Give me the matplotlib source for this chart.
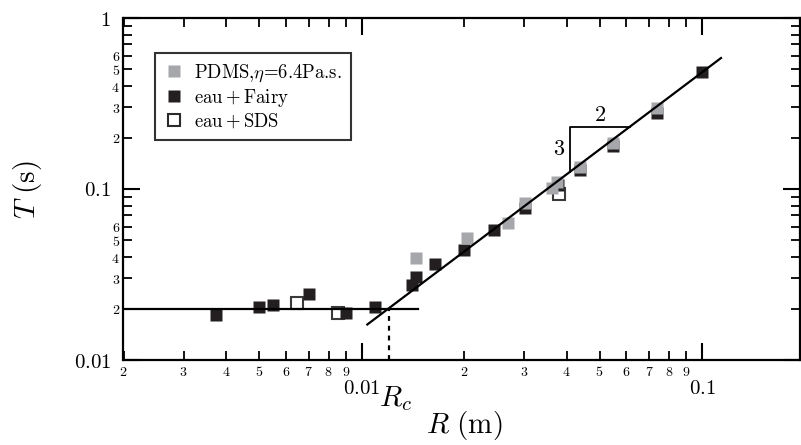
import matplotlib
matplotlib.use("Agg")
import matplotlib.pyplot as plt
from matplotlib.lines import Line2D
import numpy as np

plt.rcParams['mathtext.fontset'] = 'cm'
plt.rcParams['font.family'] = ['DejaVu Serif']
plt.rcParams['axes.unicode_minus'] = False

# ---------------- data ----------------
pdms_R = [0.01444, 0.0204, 0.0270, 0.0302, 0.0362, 0.0374, 0.0438, 0.0549, 0.0736]
pdms_T = [0.0393, 0.0515, 0.0635, 0.0828, 0.1009, 0.1103, 0.135, 0.1866, 0.2965]

fairy_R = [0.00373, 0.00500, 0.00550, 0.00702, 0.00899, 0.01096, 0.01403, 0.01444,
           0.01643, 0.01999, 0.0245, 0.0302, 0.0377, 0.0438, 0.0549, 0.0736, 0.1000]
fairy_T = [0.01834, 0.0203, 0.0209, 0.0243, 0.01875, 0.0203, 0.02746, 0.0307,
           0.0364, 0.0440, 0.0575, 0.0774, 0.106, 0.130, 0.178, 0.280, 0.485]

sds_R = [0.00647, 0.00853, 0.0380]
sds_T = [0.0216, 0.0189, 0.0931]

plateau_T = 0.02
Rc = 0.012
slope = 1.5
plateau_R = [0.002, 0.0146]
fit_R = [0.0104, 0.1137]
tri_R = [0.041, 0.0614]

legend_labels = ['PDMS,$\\eta$=6.4Pa.s.',
                 r'$\mathrm{eau+Fairy}$',
                 r'$\mathrm{eau+SDS}$']

x_major = [0.01, 0.1]
x_major_labels = ['0.01', '0.1']
x_minor = [d * 10.0 ** e for e in (-3, -2) for d in range(2, 10)]
x_minor_labels = [str(d) for e in (-3, -2) for d in range(2, 10)]
y_major = [0.01, 0.1, 1.0]
y_major_labels = ['0.01', '0.1', '1']
y_minor = [d * 10.0 ** e for e in (-2, -1) for d in range(2, 10)]
y_minor_labels = [str(d) if d <= 6 else '' for e in (-2, -1) for d in range(2, 10)]

gray = '#a6a7aa'
black = '#231f20'

# ---------------- figure ----------------
W, H = 801, 445
fig = plt.figure(figsize=(W / 100, H / 100), dpi=100)
ax = fig.add_axes([123.5 / W, (H - 360) / H, (800 - 123.5) / W, 342 / H])
ax.set_xscale('log')
ax.set_yscale('log')
ax.set_xlim(0.001999, 0.194)
ax.set_ylim(0.01, 1.0)

ms = 9.3
ax.plot(sds_R, sds_T, ls='none', marker='s', ms=ms, mfc='none', mec='#3a3a3a', mew=1.5, zorder=3)
ax.plot(fairy_R, fairy_T, ls='none', marker='s', ms=ms, mfc=black, mec='none', zorder=4)
ax.plot(pdms_R, pdms_T, ls='none', marker='s', ms=ms, mfc=gray, mec='none', zorder=5)

# lines
ax.plot(plateau_R, [plateau_T, plateau_T], color='black', lw=1.6, zorder=6)
fR = np.array(fit_R)
ax.plot(fR, plateau_T * (fR / Rc) ** slope, color='black', lw=1.6, zorder=6)
ax.plot([Rc, Rc], [0.01, plateau_T], color='black', lw=1.6, ls=(0, (2.2, 2.2)), zorder=6)

tR = np.array(tri_R)
tT = plateau_T * (tR / Rc) ** slope
ax.plot([tR[0], tR[0], tR[1]], [tT[0], tT[1], tT[1]], color='black', lw=1.3, zorder=6)
ax.text(np.sqrt(tR[0] * tR[1]), tT[1] * 1.005, r'$2$', fontsize=16, ha='center', va='bottom')
ax.text(tR[0] * 0.965, np.sqrt(tT[0] * tT[1]), r'$3$', fontsize=16, ha='right', va='center')

# ticks
ax.set_xticks(x_major)
ax.set_xticklabels(['$' + s + '$' for s in x_major_labels])
ax.set_xticks(x_minor, minor=True)
ax.set_xticklabels(['$' + s + '$' for s in x_minor_labels], minor=True)
ax.set_yticks(y_major)
ax.set_yticklabels(['$' + s + '$' for s in y_major_labels])
ax.set_yticks(y_minor, minor=True)
ax.set_yticklabels(['$' + s + '$' if s else '' for s in y_minor_labels], minor=True)

ax.tick_params(which='both', direction='in', top=True, right=True, colors='black')
ax.tick_params(which='major', length=12, width=1.5, labelsize=15)
ax.tick_params(which='minor', length=6.5, width=1.3, labelsize=10)
ax.tick_params(axis='x', which='major', pad=13.5)
ax.tick_params(axis='x', which='minor', pad=3.5)
ax.tick_params(axis='y', which='major', pad=9)
ax.tick_params(axis='y', which='minor', pad=2.5)
for sp in ax.spines.values():
    sp.set_linewidth(1.6)

# legend
handles = [
    Line2D([], [], ls='none', marker='s', ms=ms, mfc=gray, mec='none'),
    Line2D([], [], ls='none', marker='s', ms=ms, mfc=black, mec='none'),
    Line2D([], [], ls='none', marker='s', ms=ms - 1, mfc='white', mec='#2a2a2a', mew=1.5),
]
leg = ax.legend(handles, legend_labels, loc='upper left', bbox_to_anchor=(0.047, 0.898),
                borderaxespad=0, fontsize=13.5, frameon=True, fancybox=False,
                edgecolor='black', handlelength=1.0, handletextpad=0.55,
                labelspacing=0.15, borderpad=0.5)
leg.get_texts()[0].set_fontfamily(['cmr10', 'DejaVu Serif'])
leg.get_frame().set_linewidth(1.5)
leg.set_zorder(10)

# labels
fig.text(28 / W, 1 - 190 / H, r'$T\ (\mathrm{s})$', rotation=90, fontsize=21,
         ha='center', va='center')
fig.text(464 / W, 1 - 425 / H, r'$R\ (\mathrm{m})$', fontsize=21, ha='center', va='center')
fig.text(395 / W, 1 - 399 / H, r'$R_c$', fontsize=21, ha='center', va='center')

fig.savefig('out.png', dpi=100)
